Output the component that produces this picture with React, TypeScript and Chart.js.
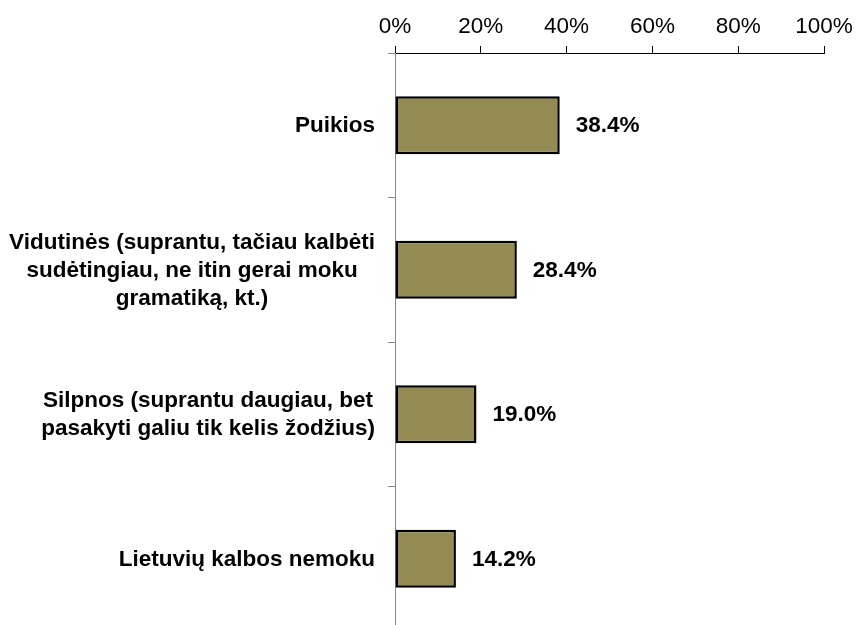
import React, { useEffect, useRef } from "react";
import { Chart, registerables } from "chart.js";

Chart.register(...registerables);

const categories: string[][] = [
  ["Puikios"],
  ["Vidutinės (suprantu, tačiau kalbėti", "sudėtingiau, ne itin gerai moku", "gramatiką, kt.)"],
  ["Silpnos (suprantu daugiau, bet", "pasakyti galiu tik kelis žodžius)"],
  ["Lietuvių kalbos nemoku"],
];
const values: number[] = [38.4, 28.4, 19.0, 14.2];
const xTicks: number[] = [0, 20, 40, 60, 80, 100];

const FONT_FAMILY = "'Liberation Sans', Arial, sans-serif";
const BAR_COLOR = "#948A54";

const labelsPlugin = {
  id: "customLabels",
  afterDatasetsDraw(chart: any) {
    const ctx = chart.ctx;
    const meta = chart.getDatasetMeta(0);
    ctx.save();
    ctx.fillStyle = "#000";
    ctx.font = `bold 22.5px ${FONT_FAMILY}`;
    ctx.textBaseline = "middle";
    ctx.textAlign = "left";
    meta.data.forEach((bar: any, i: number) => {
      ctx.fillText(values[i].toFixed(1) + "%", bar.x + 16, bar.y + 1);
    });
    // category labels
    const yScale = chart.scales.y;
    const rightEdge = 375;
    const lh = 28;
    categories.forEach((lines, i) => {
      const cy = yScale.getPixelForValue(i);
      const widths = lines.map((l) => ctx.measureText(l).width);
      const maxW = Math.max(...widths);
      const centerX = rightEdge - maxW / 2;
      const startY = cy - ((lines.length - 1) * lh) / 2;
      ctx.textAlign = "center";
      lines.forEach((l, j) => {
        ctx.fillText(l, centerX, startY + j * lh + 1);
      });
    });
    ctx.restore();
  },
};

export default function App() {
  const ref = useRef<HTMLCanvasElement>(null);
  useEffect(() => {
    if (!ref.current) return;
    const chart = new Chart(ref.current, {
      type: "bar",
      data: {
        labels: categories,
        datasets: [
          {
            data: values,
            backgroundColor: BAR_COLOR,
            borderColor: "#000",
            borderWidth: 2.5,
            borderSkipped: false,
            barPercentage: 0.4,
            categoryPercentage: 1,
          },
        ],
      },
      options: {
        indexAxis: "y",
        responsive: false,
        animation: false,
        devicePixelRatio: 1,
        layout: { padding: { left: 0, right: 32, top: 0, bottom: 1 } },
        plugins: {
          legend: { display: false },
          tooltip: { enabled: false },
          title: { display: false },
        },
        scales: {
          x: {
            position: "top",
            min: 0,
            max: 100,
            afterBuildTicks: (s: any) => {
              s.ticks = xTicks.map((v) => ({ value: v }));
            },
            afterFit: (s: any) => {
              s.height = 53;
              s.paddingLeft = 0;
              s.paddingRight = 0;
            },
            ticks: {
              padding: 6,
              color: "#000",
              font: { family: FONT_FAMILY, size: 22.5 },
              callback: (v: any) => v + "%",
            },
            grid: {
              drawOnChartArea: false,
              drawTicks: true,
              tickLength: 7,
              color: "#000",
            },
            border: { display: true, color: "#000", width: 1 },
          },
          y: {
            position: "left",
            afterFit: (s: any) => {
              s.width = 395;
              s.paddingTop = 0;
              s.paddingBottom = 0;
            },
            ticks: { display: false },
            grid: {
              drawOnChartArea: false,
              drawTicks: true,
              tickLength: 7,
              color: "#868686",
              offset: true,
            },
            border: { display: true, color: "#868686", width: 1 },
          },
        },
      },
      plugins: [labelsPlugin],
    });
    return () => chart.destroy();
  }, []);
  return (
    <div
      style={{
        position: "fixed",
        left: 0,
        top: 0,
        width: 856,
        height: 625,
        overflow: "hidden",
        background: "#fff",
      }}
    >
      <canvas ref={ref} width={856} height={632} style={{ display: "block" }} />
    </div>
  );
}
